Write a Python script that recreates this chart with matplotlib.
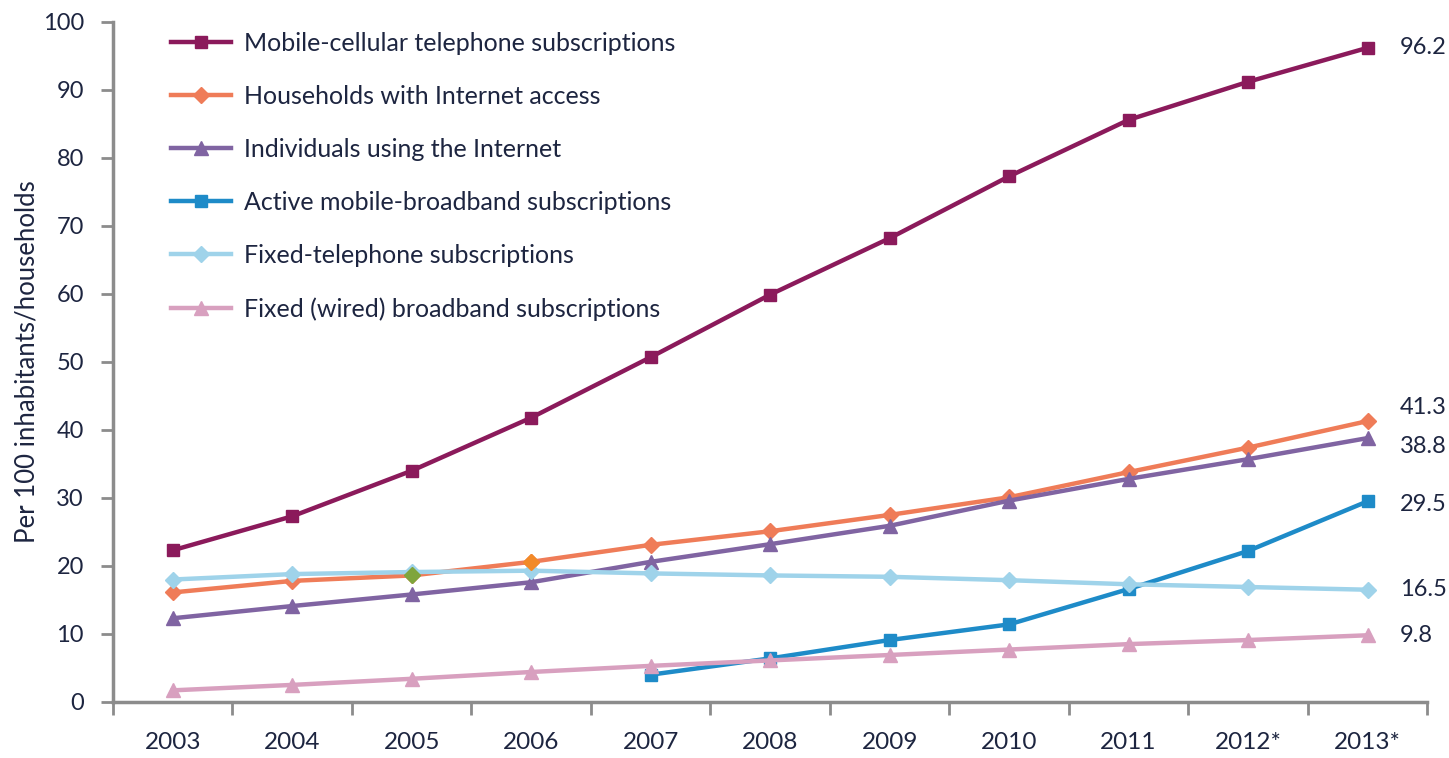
import matplotlib.pyplot as plt
import numpy as np

years = ['2003', '2004', '2005', '2006', '2007', '2008', '2009', '2010', '2011', '2012*', '2013*']

mobile_cellular = [22.3, 27.3, 34.0, 41.8, 50.7, 59.9, 68.2, 77.3, 85.6, 91.2, 96.2]
households_internet = [16.1, 17.8, 18.6, 20.6, 23.1, 25.1, 27.5, 30.1, 33.8, 37.4, 41.3]
individuals_internet = [12.3, 14.1, 15.8, 17.6, 20.6, 23.2, 25.9, 29.6, 32.8, 35.7, 38.8]
mobile_broadband = [None, None, None, None, 4.0, 6.4, 9.1, 11.4, 16.6, 22.2, 29.5]
fixed_telephone = [18.0, 18.8, 19.1, 19.3, 18.9, 18.6, 18.4, 17.9, 17.3, 16.9, 16.5]
fixed_broadband = [1.7, 2.5, 3.4, 4.4, 5.3, 6.1, 6.9, 7.7, 8.5, 9.1, 9.8]

end_labels = ['96.2', '41.3', '38.8', '29.5', '16.5', '9.8']
label_offsets = [0.0, 2.0, -1.3, -0.4, 0.0, 0.0]

series = [
    ('Mobile-cellular telephone subscriptions', mobile_cellular, '#8b1a5b', 's'),
    ('Households with Internet access', households_internet, '#ef7c58', 'D'),
    ('Individuals using the Internet', individuals_internet, '#8064a2', '^'),
    ('Active mobile-broadband subscriptions', mobile_broadband, '#1e8bc8', 's'),
    ('Fixed-telephone subscriptions', fixed_telephone, '#9fd3ea', 'D'),
    ('Fixed (wired) broadband subscriptions', fixed_broadband, '#d8a0bf', '^'),
]

plt.rcParams['font.family'] = ['Lato', 'DejaVu Sans']
text_color = '#1d2540'
axis_color = '#8c8c8c'

fig = plt.figure(figsize=(14.49, 7.58), dpi=100)
ax = fig.add_axes([0.078, 0.074, 0.907, 0.897])

x = np.arange(len(years))
for i, (label, vals, color, marker) in enumerate(series):
    v = np.array([np.nan if a is None else a for a in vals], dtype=float)
    ms = {'s': 9, 'D': 8, '^': 10}[marker]
    ax.plot(x, v, color=color, lw=3.2, marker=marker, markersize=ms,
            markeredgecolor=color, label=label)
    ax.text(10.27, v[-1] + label_offsets[i], end_labels[i],
            fontsize=17, color=text_color, va='center', ha='left')

# odd-coloured markers on the households line (2005, 2006)
ax.plot(x[2], households_internet[2], marker='D', markersize=8, color='#7fa53c', zorder=3)
ax.plot(x[3], households_internet[3], marker='D', markersize=8, color='#f28a28', zorder=3)

ax.set_xlim(-0.5, 10.5)
ax.set_ylim(0, 100)
ax.set_yticks(range(0, 101, 10))
ax.set_xticks(np.arange(-0.5, 11, 1))
ax.set_xticklabels([])
ax.set_xticks(x, minor=True)
ax.set_xticklabels(years, minor=True)
ax.tick_params(axis='x', which='minor', length=0, pad=22, labelsize=17.5, labelcolor=text_color)
ax.tick_params(axis='x', which='major', length=9, width=2, color=axis_color)
ax.tick_params(axis='y', length=9, width=2, color=axis_color, labelsize=17,
               labelcolor=text_color, pad=12)

for s in ['top', 'right']:
    ax.spines[s].set_visible(False)
for s in ['left', 'bottom']:
    ax.spines[s].set_color(axis_color)
    ax.spines[s].set_linewidth(2.5)

ax.set_ylabel('Per 100 inhabitants/households', fontsize=18.5, color=text_color, labelpad=2)

leg = ax.legend(loc='upper left', bbox_to_anchor=(0.027, 1.018), frameon=False, fontsize=18,
                handlelength=2.4, labelspacing=1.2, handletextpad=0.5)
for t in leg.get_texts():
    t.set_color(text_color)

fig.savefig('out.png', dpi=100)
